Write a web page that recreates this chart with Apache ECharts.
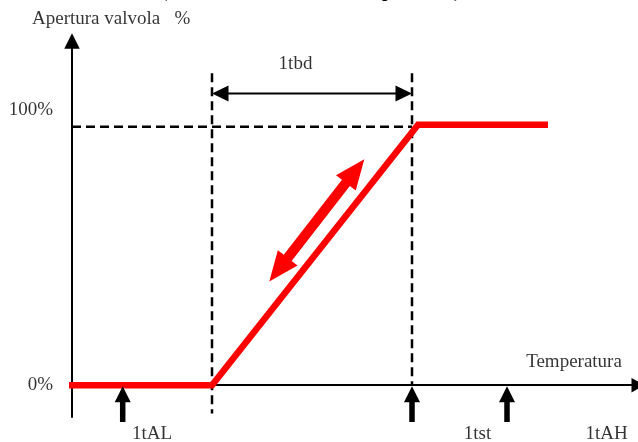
<!DOCTYPE html>
<html>
<head>
<meta charset="utf-8">
<script src="https://cdn.jsdelivr.net/npm/echarts@6/dist/echarts.min.js"></script>
<style>
  html, body { margin: 0; padding: 0; background: #fff; }
  #chart { width: 638px; height: 442px; }
</style>
</head>
<body>
<div id="chart"></div>
<script>
  // valve opening vs temperature (schematic)
  var rampTemp = [-0.3, 14.0, 34.6, 47.6];
  var rampOpening = [0, 0, 100, 100];

  // dashed guides
  var guideX = [14.0, 34.0];
  var guideTop = 119.8;
  var guideBottom = [-10.9, 0];
  var guideFullOpen = 99.3;

  // 1tbd band
  var bandFrom = 14.0;
  var bandTo = 34.0;
  var bandLevel = 112.0;

  // up arrows under the temperature axis
  var markerNames = ['1tAL', '1tst', '1tAH'];
  var markerTemp = [5.07, 34.0, 43.5];
  var markerArrowFrom = -14.1;
  var markerArrowTo = -0.4;
  var markerLabelX = [8.0, 40.55, 53.47];
  var markerLabelY = -18.8;

  // red double arrow along the ramp
  var rampArrowFrom = [19.73, 39.8];
  var rampArrowTo = [29.23, 86.8];

  // other texts
  var textNames = ['Apertura valvola   %', '100%', '0%', '1tbd', 'Temperatura'];
  var textX = [-4.0, -1.9, -1.9, 22.35, 50.2];
  var textY = [140.5, 105.6, 0, 123.5, 8.9];
  var textAlign = ['left', 'right', 'right', 'center', 'center'];

  var font = 'Liberation Serif';
  var chart = echarts.init(document.getElementById('chart'));

  function arrowRenderer(shaftW, headW, headL, double, color) {
    return function (params, api) {
      var p1 = api.coord([api.value(0), api.value(1)]);
      var p2 = api.coord([api.value(2), api.value(3)]);
      var dx = p2[0] - p1[0], dy = p2[1] - p1[1];
      var len = Math.sqrt(dx * dx + dy * dy);
      var ux = dx / len, uy = dy / len;
      var nx = -uy, ny = ux;
      function pt(base, along, side) {
        return [base[0] + ux * along + nx * side, base[1] + uy * along + ny * side];
      }
      var pts;
      if (double) {
        pts = [p1, pt(p1, headL, headW / 2), pt(p1, headL, shaftW / 2),
          pt(p2, -headL, shaftW / 2), pt(p2, -headL, headW / 2), p2,
          pt(p2, -headL, -headW / 2), pt(p2, -headL, -shaftW / 2),
          pt(p1, headL, -shaftW / 2), pt(p1, headL, -headW / 2)];
      } else {
        pts = [pt(p1, 0, shaftW / 2), pt(p2, -headL, shaftW / 2), pt(p2, -headL, headW / 2), p2,
          pt(p2, -headL, -headW / 2), pt(p2, -headL, -shaftW / 2), pt(p1, 0, -shaftW / 2)];
      }
      return { type: 'polygon', shape: { points: pts }, style: { fill: color } };
    };
  }

  var dashStyle = { color: '#000', width: 2.5, type: [9, 5] };
  var guideSeries = [];
  for (var i = 0; i < guideX.length; i++) {
    guideSeries.push({
      type: 'line', silent: true, symbol: 'none', clip: false,
      lineStyle: dashStyle,
      data: [[guideX[i], guideTop], [guideX[i], guideBottom[i]]]
    });
  }
  guideSeries.push({
    type: 'line', silent: true, symbol: 'none', clip: false,
    lineStyle: dashStyle,
    data: [[0, guideFullOpen], [guideX[1], guideFullOpen]]
  });

  var labelData = [];
  for (var t = 0; t < textNames.length; t++) {
    labelData.push({ name: textNames[t], value: [textX[t], textY[t]], label: { align: textAlign[t] } });
  }
  for (var m = 0; m < markerNames.length; m++) {
    labelData.push({ name: markerNames[m], value: [markerLabelX[m], markerLabelY], label: { align: 'center' } });
  }

  var upArrows = markerTemp.map(function (x) { return [x, markerArrowFrom, x, markerArrowTo]; });

  var option = {
    animation: false,
    title: {
      text: '(Funzionamento con la temperatura)',
      left: 161, top: -17, padding: 0,
      textStyle: { fontFamily: font, fontSize: 19, fontWeight: 'bold', color: '#000' }
    },
    grid: { left: 72, right: 0, top: 41, bottom: 25 },
    xAxis: {
      type: 'value', min: 0, max: 56.6,
      axisLine: { onZero: true, symbol: ['none', 'triangle'], symbolSize: [14.5, 13], lineStyle: { color: '#000', width: 2 } },
      axisTick: { show: false }, axisLabel: { show: false }, splitLine: { show: false }
    },
    yAxis: {
      type: 'value', min: -12.2, max: 132.2,
      axisLine: { show: true, symbol: ['none', 'triangle'], symbolSize: [15.5, 15.5], lineStyle: { color: '#000', width: 2 } },
      axisTick: { show: false }, axisLabel: { show: false }, splitLine: { show: false }
    },
    series: guideSeries.concat([
      {
        type: 'line', silent: true, symbol: 'none', clip: false, z: 5,
        lineStyle: { color: '#ff0000', width: 6.5, join: 'miter' },
        data: rampTemp.map(function (x, k) { return [x, rampOpening[k]]; })
      },
      {
        type: 'custom', silent: true, clip: false, z: 6,
        renderItem: arrowRenderer(5.5, 16, 16, false, '#000'),
        data: upArrows
      },
      {
        type: 'custom', silent: true, clip: false, z: 6,
        renderItem: arrowRenderer(2, 16, 16.5, true, '#000'),
        data: [[bandFrom, bandLevel, bandTo, bandLevel]]
      },
      {
        type: 'custom', silent: true, clip: false, z: 6,
        renderItem: arrowRenderer(10, 25, 30, true, '#ff0000'),
        data: [[rampArrowFrom[0], rampArrowFrom[1], rampArrowTo[0], rampArrowTo[1]]]
      },
      {
        type: 'scatter', silent: true, clip: false, symbolSize: 0, z: 7,
        label: {
          show: true, position: 'inside', formatter: '{b}',
          fontFamily: font, fontSize: 19, color: '#000'
        },
        data: labelData
      }
    ])
  };
  chart.setOption(option);
</script>
</body>
</html>
